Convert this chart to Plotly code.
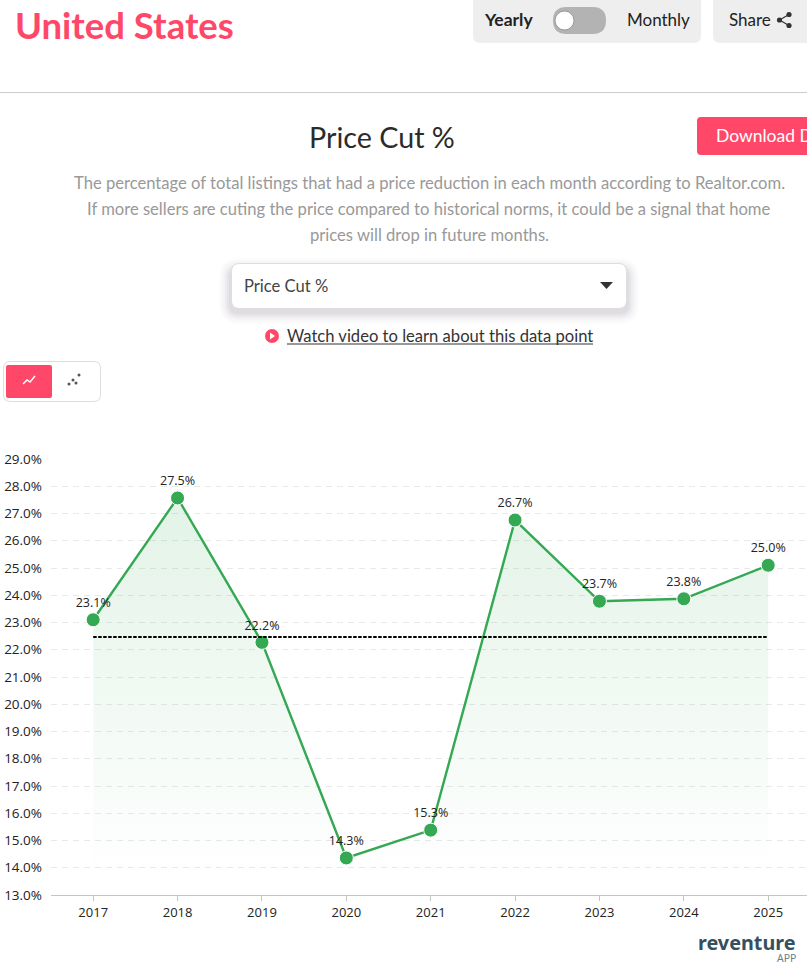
import plotly.graph_objects as go

W = 807
H = 967

years = ["2017", "2018", "2019", "2020", "2021", "2022", "2023", "2024", "2025"]
price_cut = [23.1, 27.57, 22.27, 14.36, 15.38, 26.76, 23.78, 23.87, 25.1]
point_labels = ["23.1%", "27.5%", "22.2%", "14.3%", "15.3%", "26.7%", "23.7%", "23.8%", "25.0%"]
average = [22.47] * 9
y_ticks = list(range(13, 30))
y_tick_labels = [f"{v}.0%" for v in y_ticks]

PINK = "#ff4869"
GREEN = "#34a853"
DARK = "#333333"
SANS = "Lato"
AXIS = "Open Sans"


def px(x):
    return x / W


def py(y):
    return 1 - y / H


def box(x0, y0, x1, y1, r, fill, line="rgba(0,0,0,0)", width=0):
    # rounded rectangle in page pixels
    path = (
        f"M {px(x0 + r)} {py(y0)} L {px(x1 - r)} {py(y0)} "
        f"Q {px(x1)} {py(y0)} {px(x1)} {py(y0 + r)} L {px(x1)} {py(y1 - r)} "
        f"Q {px(x1)} {py(y1)} {px(x1 - r)} {py(y1)} L {px(x0 + r)} {py(y1)} "
        f"Q {px(x0)} {py(y1)} {px(x0)} {py(y1 - r)} L {px(x0)} {py(y0 + r)} "
        f"Q {px(x0)} {py(y0)} {px(x0 + r)} {py(y0)} Z"
    )
    return dict(type="path", xref="paper", yref="paper", path=path, fillcolor=fill,
                line=dict(color=line, width=width), layer="below")


def dot(cx, cy, r, color):
    return dict(type="circle", xref="paper", yref="paper", x0=px(cx - r), x1=px(cx + r),
                y0=py(cy - r), y1=py(cy + r), fillcolor=color, line=dict(width=0), layer="below")


def label(x, y, text, size, color=DARK, anchor="center", family=SANS):
    return dict(xref="paper", yref="paper", x=px(x), y=py(y), text=text, showarrow=False,
                xanchor=anchor, yanchor="middle", align="center",
                font=dict(size=size, color=color, family=family))


fig = go.Figure()

# green area fading out toward the axis
fig.add_trace(go.Scatter(x=years, y=price_cut, mode="lines", line=dict(width=0),
                         fill="tozeroy",
                         fillgradient=dict(type="vertical", start=13.5, stop=27.6,
                                           colorscale=[[0, "rgba(52,168,83,0.0)"],
                                                       [1, "rgba(52,168,83,0.14)"]]),
                         hoverinfo="skip", showlegend=False))
fig.add_trace(go.Scatter(x=years, y=price_cut, mode="lines+markers+text",
                         text=point_labels, textposition="top center",
                         textfont=dict(size=12.5, color="#222222", family=AXIS),
                         line=dict(color=GREEN, width=2.4),
                         marker=dict(size=14, color=GREEN, line=dict(color="white", width=1)),
                         showlegend=False))
fig.add_trace(go.Scatter(x=years, y=average, mode="lines",
                         line=dict(color="black", width=2, dash="3.5px,1.5px"),
                         showlegend=False))

shapes = [
    box(473, -8, 701, 43, 7, "#eeeeee"),
    box(713, -8, 815, 43, 7, "#eeeeee"),
    box(553, 7, 606, 34, 13.5, "#b3b3b3"),
    dict(type="circle", xref="paper", yref="paper", x0=px(555), x1=px(574), y0=py(11), y1=py(30),
         fillcolor="white", line=dict(color="#999999", width=1), layer="below"),
    dict(type="line", xref="paper", yref="paper", x0=0, x1=1, y0=py(92.5), y1=py(92.5),
         line=dict(color="#cccccc", width=1), layer="below"),
    box(697, 117, 815, 155, 4, PINK),
    # share icon
    dict(type="path", xref="paper", yref="paper", layer="below", line=dict(color=DARK, width=1.2),
         path=f"M {px(789)} {py(14.5)} L {px(779.5)} {py(20)} L {px(789)} {py(25.5)}"),
    dot(789, 14.5, 2.6, DARK),
    dot(779.5, 20, 2.6, DARK),
    dot(789, 25.5, 2.6, DARK),
]
# soft shadow of the dropdown
for i, alpha in zip(range(12, 0, -2), [0.012, 0.018, 0.024, 0.03, 0.036, 0.04]):
    shapes.append(box(231 - i, 266 - i + 4, 627 + i, 308 + i + 4, 8 + i, f"rgba(60,40,70,{alpha})"))
shapes += [
    box(231.5, 263.5, 626.5, 308.5, 8, "white", "#dddddd", 1),
    dict(type="path", xref="paper", yref="paper", layer="below", fillcolor=DARK, line=dict(width=0),
         path=f"M {px(600)} {py(282)} L {px(613)} {py(282)} L {px(606.5)} {py(289)} Z"),
    dot(272, 336, 7, PINK),
    dict(type="path", xref="paper", yref="paper", layer="below", fillcolor="white", line=dict(width=0),
         path=f"M {px(270)} {py(332.5)} L {px(275)} {py(336)} L {px(270)} {py(339.5)} Z"),
    dict(type="line", xref="paper", yref="paper", x0=px(287), x1=px(593), y0=py(344), y1=py(344),
         line=dict(color=DARK, width=1), layer="below"),
    box(3.5, 361.5, 100.5, 401.5, 7, "white", "#dddddd", 1),
    box(6, 365, 52, 398, 2, PINK),
    dict(type="path", xref="paper", yref="paper", layer="below", line=dict(color="white", width=1.5),
         path=f"M {px(23)} {py(384)} L {px(27)} {py(380)} L {px(30)} {py(382)} L {px(35)} {py(376)}"),
]
for cx, cy in [(69, 384), (73, 380), (76, 383), (79, 375)]:
    shapes.append(dot(cx, cy, 1.5, "#555555"))

annotations = [
    label(13, 25, "<b>United States</b>", 36.5, PINK, "left"),
    label(482, 19.5, "<b>Yearly</b>", 17.5, "#222222", "left"),
    label(625, 19.5, "Monthly", 17, "#222222", "left"),
    label(727, 19.5, "Share", 17, "#222222", "left"),
    label(381.5, 137, "Price Cut %", 28.7, "#2b2b2b"),
    label(714, 136, "Download D", 17.5, "white", "left"),
    label(429, 183, "The percentage of total listings that had a price reduction in each month according to Realtor.com.", 16.6, "#999999"),
    label(429, 209, "If more sellers are cuting the price compared to historical norms, it could be a signal that home", 16.6, "#999999"),
    label(429, 235, "prices will drop in future months.", 16.6, "#999999"),
    label(242, 286, "Price Cut %", 16.6, "#444444", "left"),
    label(285, 336, "Watch video to learn about this data point", 16.6, DARK, "left"),
    label(798, 942, "<b>reventure</b>", 19.8, "#34505f", "right", "Noto Sans"),
    label(798, 958, "APP", 10.5, "#6b7f8a", "right", "Noto Sans"),
]

fig.update_layout(
    width=W, height=H, autosize=False,
    margin=dict(l=0, r=0, t=0, b=0, pad=0, autoexpand=False),
    paper_bgcolor="white", plot_bgcolor="rgba(0,0,0,0)",
    showlegend=False, shapes=shapes, annotations=annotations,
    hovermode="closest",
)
fig.update_xaxes(domain=[px(51), 1], range=[-0.5, 8.46], type="category",
                 tickfont=dict(size=13, color="#222222", family=AXIS),
                 showgrid=False, showline=True, linecolor="#c4c4c4", linewidth=1,
                 ticks="outside", ticklen=5, tickcolor="#c4c4c4", zeroline=False)
fig.update_yaxes(domain=[py(895), py(459)], range=[13, 29], tickvals=y_ticks, ticktext=y_tick_labels,
                 tickfont=dict(size=13.5, color="#222222", family=AXIS),
                 showgrid=True, gridcolor="#e9e9e9", griddash="6px,5px", gridwidth=1,
                 showline=False, zeroline=False, ticks="", ticklabelstandoff=8)

# the page's default body margin would push everything 8px in
fig.write_html("out.html", config={"displayModeBar": False},
               post_script="document.body.style.margin='0';document.documentElement.style.overflow='hidden';")
